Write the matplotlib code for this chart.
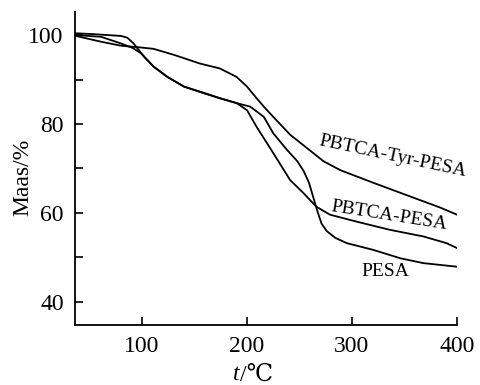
import numpy as np
import matplotlib.pyplot as plt
from matplotlib import rcParams

rcParams.update({'font.family': ['Liberation Serif', 'DejaVu Serif', 'Noto Sans CJK SC'],
                 'font.size': 17})

# TGA curves (temperature in C, mass in %)
t_tyr = [37, 61, 80, 99, 111, 131, 155, 174, 190, 200, 208, 216, 225, 241, 257, 273, 289, 320, 352, 384, 400]
m_tyr = [99.8, 98.5, 97.6, 97.2, 96.9, 95.5, 93.6, 92.5, 90.6, 88.4, 86.1, 83.9, 81.6, 77.6, 74.6, 71.6, 69.6, 66.8, 64.0, 61.2, 59.6]

t_pbtca = [37, 61, 80, 91, 99, 111, 124, 140, 159, 174, 190, 200, 209, 219, 231, 241, 254, 266, 279, 305, 336, 368, 390, 400]
m_pbtca = [100.0, 99.6, 98.1, 97.1, 95.9, 92.9, 90.6, 88.4, 87.0, 85.8, 84.7, 83.1, 79.4, 75.7, 71.2, 67.4, 64.4, 61.4, 59.6, 58.0, 56.2, 54.7, 53.2, 52.1]

t_pesa = [37, 54, 67, 80, 86, 92, 97, 102, 111, 124, 140, 159, 174, 190, 203, 216, 225, 238, 248, 254, 259, 263, 267, 271, 276, 284, 295, 320, 346, 368, 400]
m_pesa = [100.4, 100.2, 100.0, 99.8, 99.4, 98.1, 96.6, 95.1, 92.9, 90.6, 88.4, 86.9, 85.8, 84.7, 83.9, 81.6, 77.9, 74.2, 71.6, 69.4, 66.8, 63.6, 60.4, 57.6, 55.9, 54.4, 53.2, 51.7, 49.8, 48.7, 47.9]

fig = plt.figure(figsize=(4.8, 3.85), dpi=100)
ax = fig.add_axes([0.156, 0.156, 0.796, 0.813])

for tt, mm in [(t_tyr, m_tyr), (t_pbtca, m_pbtca), (t_pesa, m_pesa)]:
    ax.plot(tt, mm, color='k', lw=1.3)

ax.text(339, 72.8, 'PBTCA-Tyr-PESA', rotation=-12, ha='center', va='center', fontsize=14)
ax.text(335, 59.4, 'PBTCA-PESA', rotation=-9, ha='center', va='center', fontsize=14)
ax.text(332, 46.8, 'PESA', ha='center', va='center', fontsize=14)

ax.set_xlim(36, 400)
ax.set_ylim(34.8, 105.2)
ax.set_xticks([100, 200, 300, 400])
ax.set_yticks([40, 60, 80, 100])
ax.set_yticks([50, 70, 90], minor=True)
ax.tick_params(direction='in', length=6, width=1.2, pad=8)
ax.tick_params(which='minor', direction='in', length=6, width=1.2)
ax.spines['top'].set_visible(False)
ax.spines['right'].set_visible(False)
for s in ['left', 'bottom']:
    ax.spines[s].set_linewidth(1.3)

ax.set_ylabel('Maas/%', va='center')
ax.yaxis.set_label_coords(-0.136, 0.47)
fig.text(0.5, 0.012, 't', style='italic', ha='right', va='baseline')
fig.text(0.5, 0.012, '/\u2103', ha='left', va='baseline')

fig.savefig('out.png', dpi=100)
